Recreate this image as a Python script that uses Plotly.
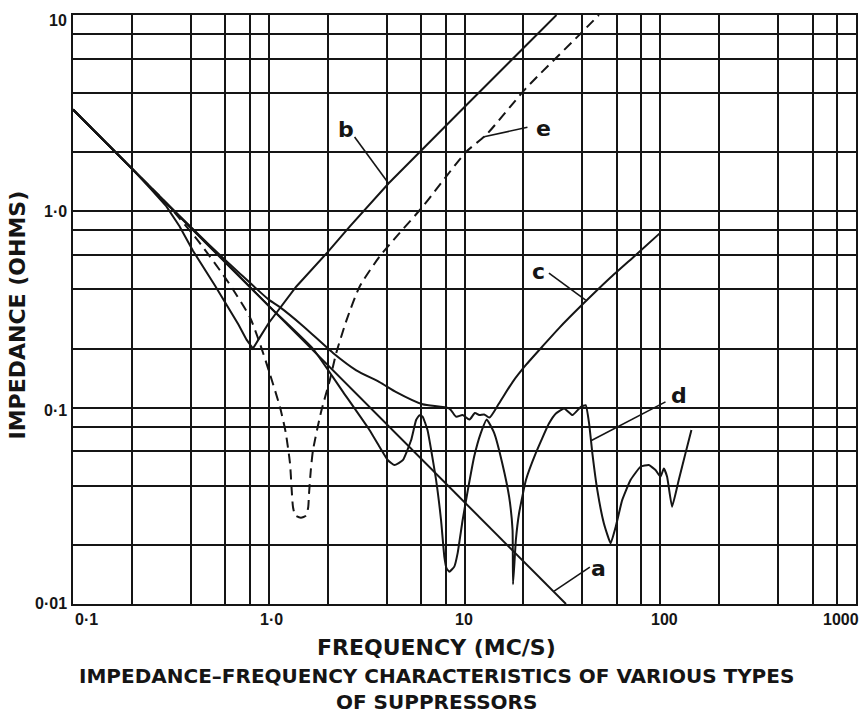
import numpy as np
import plotly.graph_objects as go

# ---------------- data ----------------
freq_a = [0.1, 0.3, 1.0, 3.0, 10.0, 33.0]
imp_a = [3.3, 1.1, 0.33, 0.11, 0.033, 0.01]

freq_b = [0.1, 0.2, 0.25, 0.3, 0.35, 0.41, 0.53, 0.61, 0.7, 0.77, 0.83, 0.9, 1.0,
          1.38, 2.0, 2.59, 4.1, 10.0, 29.5]
imp_b = [3.3, 1.65, 1.3, 1.06, 0.84, 0.63, 0.42, 0.335, 0.265, 0.222, 0.2, 0.228, 0.27,
         0.413, 0.62, 0.836, 1.39, 3.4, 10.0]

freq_c = [0.1, 0.3, 0.5, 0.7, 1.0, 1.14, 1.5, 2.13, 2.8, 3.68, 4.48, 6.11, 8.37, 9.06,
          9.78, 10.6, 11.3, 11.9, 12.6, 13.4, 15.0, 17.6, 20.6, 25.0, 30.5, 40.0, 55.0, 75.0, 99.0]
imp_c = [3.3, 1.1, 0.67, 0.49, 0.355, 0.325, 0.26, 0.19, 0.155, 0.135, 0.12, 0.104, 0.099, 0.09,
         0.0917, 0.087, 0.094, 0.0917, 0.0924, 0.089, 0.105, 0.135, 0.165, 0.205, 0.255, 0.335, 0.455, 0.6, 0.77]

freq_d = [0.1, 0.3, 1.0, 1.68, 2.4, 3.27, 3.68, 4.06, 4.39, 4.84, 5.34, 5.66, 5.89, 6.11, 6.47,
          7.16, 7.59, 7.89, 8.1, 8.37, 8.87, 9.22, 9.78, 10.4, 11.2, 12.1, 13.0, 14.2, 15.6, 16.9,
          17.6, 17.7, 18.3, 19.0, 20.6, 23.1, 27.0, 29.3, 32.3, 35.6, 39.3, 41.6, 43.3, 45.0, 47.7,
          51.5, 55.8, 59.2, 63.9, 70.5, 79.3, 87.4, 94.6, 100.3, 104.3, 108.4, 114.9, 124.3, 134.5, 144.3]
imp_d = [3.3, 1.1, 0.33, 0.2, 0.12, 0.077, 0.0632, 0.054, 0.051, 0.054, 0.0684, 0.0865, 0.0916, 0.090, 0.0769,
         0.0428, 0.0267, 0.0174, 0.0152, 0.0146, 0.0155, 0.0181, 0.0267, 0.038, 0.0562, 0.074, 0.087, 0.074, 0.052, 0.0352,
         0.0238, 0.0126, 0.0212, 0.029, 0.0428, 0.0585, 0.083, 0.0935, 0.0991, 0.0917, 0.101, 0.103, 0.0832, 0.0585, 0.038,
         0.0258, 0.0204, 0.0247, 0.0338, 0.0428, 0.050, 0.051, 0.0481, 0.0445, 0.049, 0.0445, 0.0313, 0.0428, 0.0585, 0.0769]

freq_e = [0.1, 0.2, 0.3, 0.43, 0.61, 0.8, 0.9, 1.01, 1.14, 1.22, 1.284, 1.31, 1.331, 1.37, 1.46,
          1.55, 1.59, 1.606, 1.64, 1.683, 1.85, 2.05, 2.21, 2.5, 2.91, 3.68, 4.56, 6.11, 10.2, 12.9,
          20.6, 38.5, 48.6]
imp_e = [3.3, 1.65, 1.1, 0.72, 0.447, 0.29, 0.213, 0.15, 0.101, 0.075, 0.052, 0.038, 0.031, 0.0282, 0.0275,
         0.0282, 0.031, 0.0365, 0.048, 0.0608, 0.095, 0.138, 0.189, 0.28, 0.413, 0.588, 0.757, 1.055, 2.01, 2.45,
         4.23, 7.9, 10.0]

# grid / tick values
grid_x = [0.1, 0.2, 0.4, 0.6, 0.8, 1, 2, 4, 6, 8, 10, 20, 40, 60, 80, 100, 200, 400, 600, 800, 1000]
grid_y = [0.01, 0.02, 0.04, 0.06, 0.08, 0.1, 0.2, 0.4, 0.6, 0.8, 1, 2, 4, 6, 8, 10]
xtick_vals = [0.1, 1, 10, 100, 1000]
xtick_text = ["0·1", "1·0", "10", "100", "1000"]
ytick_vals = [0.01, 0.1, 1, 10]
ytick_text = ["0·01", "0·1", "1·0", "10"]

# curve labels and leader lines
label_text = ["a", "b", "c", "d", "e"]
label_x = [48.6, 2.48, 24.0, 125.0, 25.4]
label_y = [0.0151, 2.62, 0.493, 0.116, 2.64]
leader_x0 = [43.7, 2.745, 27.0, 106.4, 20.97]
leader_y0 = [0.0154, 2.39, 0.485, 0.107, 2.68]
leader_x1 = [28.7, 4.09, 41.6, 44.5, 12.6]
leader_y1 = [0.01164, 1.39, 0.353, 0.068, 2.40]

INK = "#151515"

fig = go.Figure()
fig.add_trace(go.Scatter(x=freq_a, y=imp_a, mode="lines", line=dict(color=INK, width=2)))
fig.add_trace(go.Scatter(x=freq_b, y=imp_b, mode="lines", line=dict(color=INK, width=2)))
fig.add_trace(go.Scatter(x=freq_c, y=imp_c, mode="lines",
                         line=dict(color=INK, width=2, shape="spline", smoothing=0.6)))
fig.add_trace(go.Scatter(x=freq_d, y=imp_d, mode="lines",
                         line=dict(color=INK, width=2, shape="spline", smoothing=0.4)))
fig.add_trace(go.Scatter(x=freq_e, y=imp_e, mode="lines",
                         line=dict(color=INK, width=2, dash="10px,6px", shape="spline", smoothing=0.6)))

for i in range(len(label_text)):
    fig.add_trace(go.Scatter(x=[leader_x0[i], leader_x1[i]], y=[leader_y0[i], leader_y1[i]],
                             mode="lines", line=dict(color=INK, width=1.6)))

annotations = []
for t, x, y in zip(label_text, label_x, label_y):
    annotations.append(dict(x=np.log10(x), y=np.log10(y), xref="x", yref="y", text="<b>%s</b>" % t,
                            showarrow=False, xanchor="center", yanchor="middle",
                            font=dict(family="DejaVu Sans", size=22, color=INK)))

tick_font = dict(family="Liberation Sans", size=16, color=INK)
# x tick labels
x_anchor = ["left", "center", "center", "center", "right"]
x_shift = [0, 3, -1, 4, 5]
for v, t, a, s in zip(xtick_vals, xtick_text, x_anchor, x_shift):
    annotations.append(dict(x=np.log10(v), y=-0.0255, xref="x", yref="paper", text="<b>%s</b>" % t,
                            showarrow=False, xanchor=a, yanchor="middle", xshift=s, font=tick_font))
# y tick labels
y_shift = [1, -3, 0, -5]
for v, t, s in zip(ytick_vals, ytick_text, y_shift):
    annotations.append(dict(x=-0.0045, y=np.log10(v), xref="paper", yref="y", text="<b>%s</b>" % t,
                            showarrow=False, xanchor="right", yanchor="middle", yshift=s, font=tick_font))

annotations.append(dict(x=0.4647, y=-0.0739, xref="paper", yref="paper", text="<b>FREQUENCY (MC/S)</b>",
                        showarrow=False, xanchor="center", yanchor="middle",
                        font=dict(family="DejaVu Sans", size=22, color=INK)))
annotations.append(dict(x=-0.0703, y=0.4915, xref="paper", yref="paper", text="<b>IMPEDANCE (OHMS)</b>",
                        showarrow=False, xanchor="center", yanchor="middle", textangle=-90,
                        font=dict(family="DejaVu Sans", size=22, color=INK)))
annotations.append(dict(x=0.4647, y=-0.1893, xref="paper", yref="paper", borderpad=0,
                        text="<b>IMPEDANCE–FREQUENCY CHARACTERISTICS OF VARIOUS TYPES</b><br>"
                             "<b>OF SUPPRESSORS</b>",
                        showarrow=False, xanchor="center", yanchor="bottom", align="center",
                        font=dict(family="DejaVu Sans", size=20, color=INK)))

axis_common = dict(type="log", showgrid=True, gridcolor=INK, gridwidth=2, showline=True, mirror=True,
                   linecolor=INK, linewidth=2, zeroline=False, ticks="", showticklabels=False)
fig.update_layout(
    width=865, height=717, showlegend=False,
    paper_bgcolor="white", plot_bgcolor="white",
    margin=dict(l=73, r=7, t=15, b=113),
    xaxis=dict(range=[-1, 3], tickvals=grid_x, **axis_common),
    yaxis=dict(range=[-2, 1], tickvals=grid_y, **axis_common),
    annotations=annotations,
    hovermode=False,
)

fig.write_html("out.html", config={"displayModeBar": False, "staticPlot": True},
               post_script="document.body.style.margin='0';document.body.style.overflow='hidden';")
